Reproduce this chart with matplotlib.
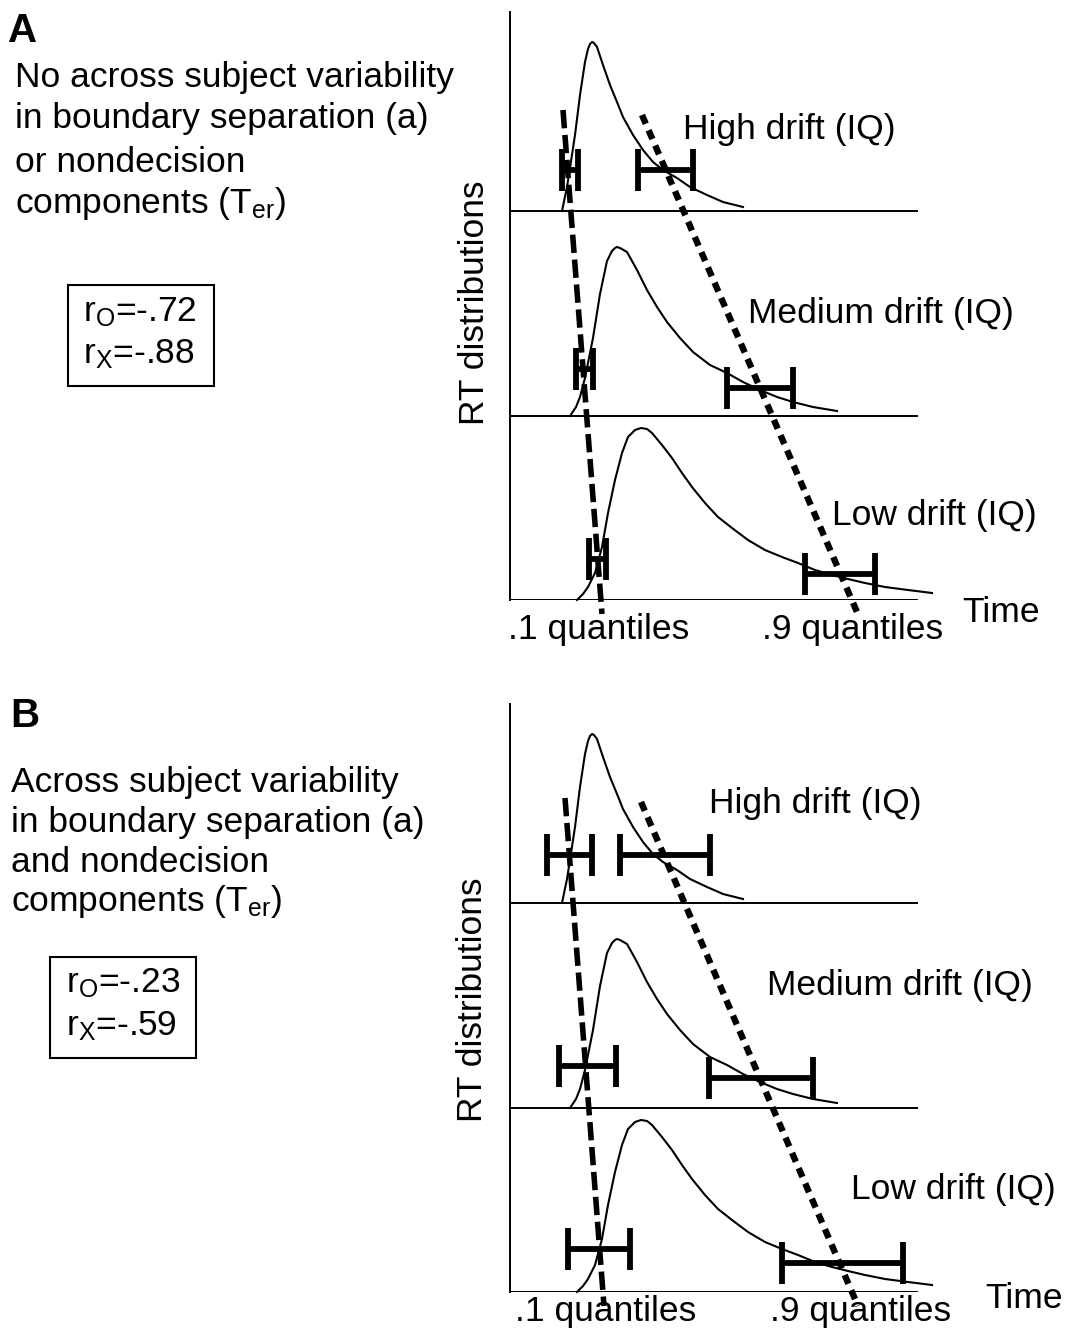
import numpy as np
import matplotlib.pyplot as plt
from matplotlib.patches import Rectangle

plt.rcParams['font.family'] = ['Liberation Sans', 'DejaVu Sans']
plt.rcParams['mathtext.fontset'] = 'custom'
plt.rcParams['mathtext.rm'] = 'Liberation Sans'
plt.rcParams['mathtext.it'] = 'Liberation Sans:italic'

W, H = 1070, 1330

# RT distribution shapes: time from the axis, height above the row baseline
high_t = [52, 57, 60, 65, 70, 75, 78, 80, 82, 84, 87, 93, 100, 107, 113, 123, 133, 143, 153, 167, 180, 197, 213, 233]
high_h = [0, 24, 43, 76, 116, 149, 162, 167, 169, 168, 164, 146, 126, 109, 94, 76, 61, 49, 41, 33, 24, 16, 9, 4]
med_t = [60, 66, 70, 75, 83, 90, 97, 102, 105, 107, 110, 117, 127, 137, 147, 157, 170, 183, 200, 217, 233, 250, 267, 283, 303, 327]
med_h = [0, 9, 19, 38, 78, 122, 155, 165, 168, 169, 168, 164, 146, 126, 109, 94, 78, 64, 51, 43, 34, 26, 19, 14, 9, 5]
low_t = [67, 73, 78, 85, 92, 98, 105, 112, 118, 125, 131, 137, 142, 152, 162, 172, 182, 195, 208, 222, 238, 255, 272, 288, 305, 322, 338, 355, 375, 398, 422]
low_h = [0, 6, 13, 27, 53, 87, 120, 147, 163, 170, 172, 171, 167, 155, 142, 127, 113, 97, 83, 72, 60, 50, 43, 37, 30, 25, 21, 17, 13, 10, 7]

row_labels = ['High drift (IQ)', 'Medium drift (IQ)', 'Low drift (IQ)']
row_base = [389, 184, 0]
curves = [(high_t, high_h), (med_t, med_h), (low_t, low_h)]

# quantile bars [left, right, height] for .1 and .9 quantiles
a_q1 = [[52, 68, 41], [66, 83, 47], [79, 96, 41]]
a_q9 = [[128, 183, 41], [217, 283, 28], [295, 365, 26]]
b_q1 = [[37, 82, 48], [49, 106, 42], [58, 120, 43]]
b_q9 = [[110, 200, 48], [199, 303, 30], [272, 393, 29]]

# trend lines through the quantiles [x_top, y_top, x_bottom, y_bottom]
a_line_q1 = [53, 490, 92, -14]
a_line_q9 = [132, 485, 347, -12]
b_line_q1 = [55, 494, 94, -14]
b_line_q9 = [131, 490, 348, -14]

a_text = ['No across subject variability', 'in boundary separation (a)',
          'or nondecision', r'components ($\mathrm{T_{er}}$)']
b_text = ['Across subject variability', 'in boundary separation (a)',
          'and nondecision', r'components ($\mathrm{T_{er}}$)']
a_r = [r'r$_\mathrm{O}$=-.72', r'r$_\mathrm{X}$=-.88']
b_r = [r'r$_\mathrm{O}$=-.23', r'r$_\mathrm{X}$=-.59']

fig = plt.figure(figsize=(W / 100, H / 100), dpi=100)
over = fig.add_axes([0, 0, 1, 1])
over.set_xlim(0, W)
over.set_ylim(H, 0)
over.axis('off')

fs = 25.5


def panel(bottom_px, q1, q9, l1, l9):
    ax = fig.add_axes([510 / W, (H - bottom_px) / H, 420 / W, 588 / H])
    ax.set_xlim(0, 420)
    ax.set_ylim(0, 588)
    ax.axis('off')
    ax.plot([0, 0], [0, 588], color='k', lw=1.4, clip_on=False)
    ax.hlines(row_base, 0, 408, color='k', lw=1.4)
    for i in range(3):
        t, h = curves[i]
        ax.plot(t, np.array(h) + row_base[i], color='k', lw=1.5, clip_on=False,
                solid_joinstyle='round')
        for lo, hi, hh in (q1[i], q9[i]):
            ax.errorbar((lo + hi) / 2, row_base[i] + hh, xerr=(hi - lo) / 2, fmt='none',
                        ecolor='k', elinewidth=4.2, capsize=15, capthick=4.2)
    ax.plot([l1[0], l1[2]], [l1[1], l1[3]], color='k', lw=4.0, dashes=(3.3, 1.2), clip_on=False)
    ax.plot([l9[0], l9[2]], [l9[1], l9[3]], color='k', lw=4.6, dashes=(1.5, 1.1), clip_on=False)
    return ax


panel(600, a_q1, a_q9, a_line_q1, a_line_q9)
panel(1292, b_q1, b_q9, b_line_q1, b_line_q9)

# panel A text
over.text(8, 42, 'A', fontsize=29, fontweight='bold', va='baseline')
for s, y in zip(a_text, [87, 128, 172, 213]):
    over.text(15, y, s, fontsize=fs, va='baseline')
over.add_patch(Rectangle((68, 285), 146, 101, fill=False, lw=1.5, ec='k'))
over.text(83, 321, a_r[0], fontsize=fs, va='baseline')
over.text(83, 363, a_r[1], fontsize=fs, va='baseline')
over.text(474, 303, 'RT distributions', fontsize=fs, rotation=90, ha='center', va='center')
for s, x, y in zip(row_labels, [683, 748, 832], [130, 313, 516]):
    over.text(x, y, s, fontsize=fs, va='center')
over.text(599, 630, '.1 quantiles', fontsize=fs, ha='center', va='center')
over.text(853, 630, '.9 quantiles', fontsize=fs, ha='center', va='center')
over.text(962, 613, 'Time', fontsize=fs, va='center')

# panel B text
over.text(10, 727, 'B', fontsize=29, fontweight='bold', va='baseline')
for s, y in zip(b_text, [792, 832, 872, 911]):
    over.text(11, y, s, fontsize=fs, va='baseline')
over.add_patch(Rectangle((50, 957), 146, 101, fill=False, lw=1.5, ec='k'))
over.text(66, 992, b_r[0], fontsize=fs, va='baseline')
over.text(66, 1035, b_r[1], fontsize=fs, va='baseline')
over.text(472, 1000, 'RT distributions', fontsize=fs, rotation=90, ha='center', va='center')
for s, x, y in zip(row_labels, [709, 767, 851], [803, 986, 1189]):
    over.text(x, y, s, fontsize=fs, va='center')
over.text(606, 1311, '.1 quantiles', fontsize=fs, ha='center', va='center')
over.text(861, 1311, '.9 quantiles', fontsize=fs, ha='center', va='center')
over.text(985, 1298, 'Time', fontsize=fs, va='center')

fig.savefig('out.png', dpi=100)
